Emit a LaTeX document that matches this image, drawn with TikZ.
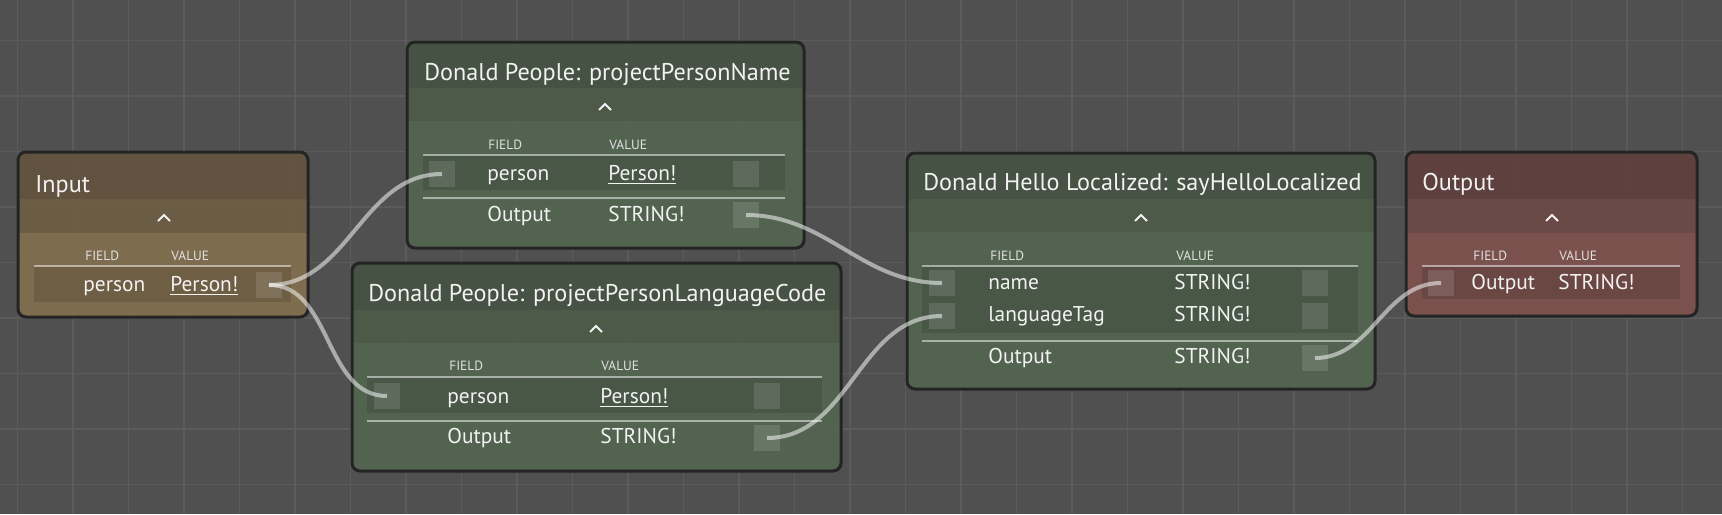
\documentclass[tikz,border=0pt]{standalone}
\usepackage{fontspec}
\setmainfont{PT Sans}
\definecolor{canvas}{HTML}{505050}
\definecolor{gridc}{HTML}{5B5B5B}
\definecolor{edge}{HTML}{242424}
\definecolor{inptitle}{HTML}{63543E}
\definecolor{inpchev}{HTML}{6F5E44}
\definecolor{inpbody}{HTML}{84704E}
\definecolor{fntitle}{HTML}{465342}
\definecolor{fnchev}{HTML}{4D5C48}
\definecolor{fnbody}{HTML}{536750}
\definecolor{outtitle}{HTML}{60403E}
\definecolor{outchev}{HTML}{6E4945}
\definecolor{outbody}{HTML}{7F524D}
\definecolor{txt}{HTML}{F2F2F2}
\tikzset{
  gridline/.style={gridc, line width=.75pt},
  frame/.style={draw=edge, line width=1.5pt, rounded corners=4pt},
  band/.style={fill opacity=.9},
  chev/.style={txt, line width=1pt},
  sepline/.style={white, opacity=.5, line width=1pt},
  rowband/.style={black, opacity=.12},
  port/.style={fill=white, fill opacity=.12, minimum size=13pt, inner sep=0pt},
  ttl/.style={anchor=base west, inner sep=0pt, text=txt, font=\fontsize{12.1}{14}\selectfont},
  hdr/.style={anchor=base west, inner sep=0pt, text=txt!85!gray, font=\fontsize{6.7}{8}\selectfont},
  lbl/.style={anchor=base west, inner sep=0pt, text=txt, font=\fontsize{10.7}{13}\selectfont},
  wire/.style={white, opacity=.52, line width=2pt},
}
% box: x1 y1 x2 y2, title bottom, chevron bottom, colour prefix
\newcommand{\nodeframe}[7]{%
  \begin{scope}
    \clip[rounded corners=4pt] (#1,#2) rectangle (#3,#4);
    \fill[band,#7title] (#1,#2) rectangle (#3,#5);
    \fill[band,#7chev] (#1,#5) rectangle (#3,#6);
    \fill[band,#7body] (#1,#6) rectangle (#3,#4);
  \end{scope}
  \draw[frame] (#1,#2) rectangle (#3,#4);
}
\newcommand{\chevron}[2]{\draw[chev] (#1-6,#2+3) -- (#1,#2-3) -- (#1+6,#2+3);}
\begin{document}
\begin{tikzpicture}[x=.5pt,y=-.5pt]
\useasboundingbox[fill=canvas] (0,0) rectangle (1722,514);
\foreach \k in {0,...,30} \draw[gridline] (17.7+55.5*\k,0) -- ++(0,514);
\foreach \k in {0,...,8} \draw[gridline] (0,40.7+55.5*\k) -- ++(1722,0);

% Input
\nodeframe{18}{152}{308}{317}{199}{233}{inp}
\chevron{164}{218}
\node[ttl] (inTitle) at (35,192) {Input};
\node[hdr] (inField) at (85,260) {FIELD};
\node[hdr] (inValue) at (171,260) {VALUE};
\fill[rowband] (34,266) rectangle (291,302);
\draw[sepline] (34,266) -- (291,266);
\node[lbl] (inPerson) at (83,291.5) {person};
\node[lbl] (inType) at (170,291.5) {\underline{Person!}};
\node[port] (inOut) at (269,285) {};

% projectPersonName
\nodeframe{407}{42}{804}{248}{88}{121}{fn}
\chevron{605}{107}
\node[ttl] (pnTitle) at (424,80) {Donald People: projectPersonName};
\node[hdr] (pnField) at (488,149) {FIELD};
\node[hdr] (pnValue) at (609,149) {VALUE};
\fill[rowband] (423,155) rectangle (785,190);
\draw[sepline] (423,155) -- (785,155);
\draw[sepline] (423,198) -- (785,198);
\node[lbl] (pnPerson) at (487,180.5) {person};
\node[lbl] (pnType) at (608,180.5) {\underline{Person!}};
\node[lbl] (pnOutput) at (487,221.5) {Output};
\node[lbl] (pnString) at (608,221.5) {STRING!};
\node[port] (pnIn) at (442,174) {};
\node[port] (pnInR) at (746,174) {};
\node[port] (pnOut) at (746,215) {};

% projectPersonLanguageCode
\nodeframe{352}{263}{841}{471}{310}{343}{fn}
\chevron{596}{329}
\node[ttl] (lcTitle) at (368,301.5) {Donald People: projectPersonLanguageCode};
\node[hdr] (lcField) at (449,370.5) {FIELD};
\node[hdr] (lcValue) at (601,370.5) {VALUE};
\fill[rowband] (367,377) rectangle (822,413);
\draw[sepline] (367,377) -- (822,377);
\draw[sepline] (367,421) -- (822,421);
\node[lbl] (lcPerson) at (447,403) {person};
\node[lbl] (lcType) at (600,403) {\underline{Person!}};
\node[lbl] (lcOutput) at (447,443.5) {Output};
\node[lbl] (lcString) at (600,443.5) {STRING!};
\node[port] (lcIn) at (387,396) {};
\node[port] (lcInR) at (767,396) {};
\node[port] (lcOut) at (767,438) {};

% sayHelloLocalized
\nodeframe{907}{153}{1375}{389}{199}{232}{fn}
\chevron{1141}{218}
\node[ttl] (hlTitle) at (923,190.5) {Donald Hello Localized: sayHelloLocalized};
\node[hdr] (hlField) at (990,260) {FIELD};
\node[hdr] (hlValue) at (1176,260) {VALUE};
\fill[rowband] (922,266) rectangle (1358,333);
\draw[sepline] (922,266) -- (1358,266);
\draw[sepline] (922,341) -- (1358,341);
\node[lbl] (hlName) at (988,289.5) {name};
\node[lbl] (hlNameT) at (1174,289.5) {STRING!};
\node[lbl] (hlLang) at (988,321.5) {languageTag};
\node[lbl] (hlLangT) at (1174,321.5) {STRING!};
\node[lbl] (hlOutput) at (988,363.5) {Output};
\node[lbl] (hlString) at (1174,363.5) {STRING!};
\node[port] (hlNameIn) at (942,283) {};
\node[port] (hlLangIn) at (942,316) {};
\node[port] (hlNameR) at (1315,283) {};
\node[port] (hlLangR) at (1315,316) {};
\node[port] (hlOut) at (1315,358) {};

% Output
\nodeframe{1406}{152}{1697}{316}{199}{233}{out}
\chevron{1552}{218}
\node[ttl] (otTitle) at (1422,190.5) {Output};
\node[hdr] (otField) at (1473,260) {FIELD};
\node[hdr] (otValue) at (1559,260) {VALUE};
\fill[rowband] (1422,266) rectangle (1680,299);
\draw[sepline] (1422,266) -- (1680,266);
\node[lbl] (otOutput) at (1471,289.5) {Output};
\node[lbl] (otString) at (1558,289.5) {STRING!};
\node[port] (otIn) at (1441,283) {};

% wires
\draw[wire] (inOut.center) to[out=0,in=180] (pnIn.center);
\draw[wire] (inOut.center) to[out=0,in=180] (lcIn.center);
\draw[wire] (pnOut.center) to[out=0,in=180] (hlNameIn.center);
\draw[wire] (lcOut.center) to[out=0,in=180] (hlLangIn.center);
\draw[wire] (hlOut.center) to[out=0,in=180] (otIn.center);
\end{tikzpicture}
\end{document}
